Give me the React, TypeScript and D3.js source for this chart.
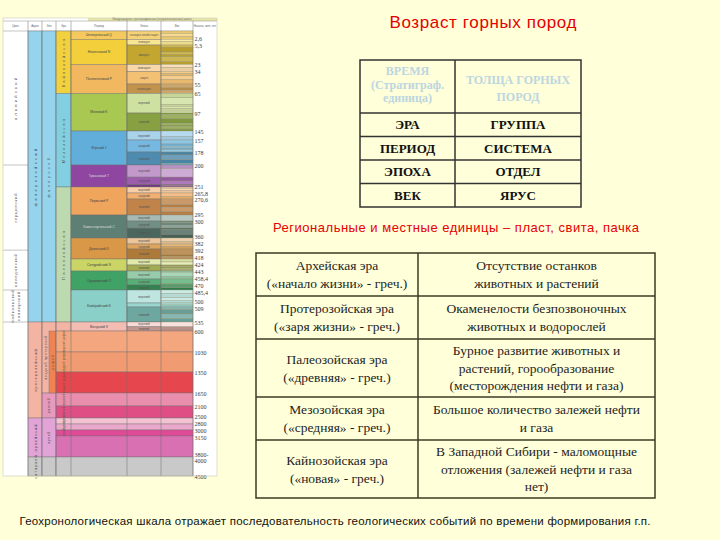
import React from "react";
import * as d3 from "d3";

// ---------- time axis of the geochronological scale ----------
const AGES = [0, 2.6, 5.3, 23, 34, 55, 65, 97, 145, 157, 178, 200, 251, 265.8, 270.6, 295, 300, 360, 382, 392, 418, 424, 443, 458.4, 470, 485.4, 500, 509, 535, 600, 1030, 1350, 1650, 2100, 2500, 2800, 3000, 3150, 3800, 4500];
const AGE_LABELS = ["", "2,6", "5,3", "23", "34", "55", "65", "97", "145", "157", "178", "200", "251", "265,8", "270,6", "295", "300", "360", "382", "392", "418", "424", "443", "458,4", "470", "485,4", "500", "509", "535", "600", "1030", "1350", "1650", "2100", "2500", "2800", "3000", "3150", "3800-4000", "4500"];
// the scale is drawn non-linearly: screen position of each labelled age
const AXIS_POS = [31, 39.5, 45, 64.5, 71.5, 84, 93.5, 113, 131, 140, 152, 165, 187, 193, 199, 215, 221, 238, 244, 249, 259, 265, 271, 279, 285, 290, 303, 307, 322, 331, 352, 372, 393, 406, 418, 424, 430, 436, 457, 476];

// tectonic cycles
const CYCLE_NAMES = [["альпийский"], ["герцинский"], ["каледонский"], ["байкальский", "салаирский"]];
const CYCLE_FROM = [0, 200, 395, 485.4];
const CYCLE_TO = [200, 395, 485.4, 535];

// acrons / eons
const ACRONS = ["фанерозойский", "протерозойский", "архейский", "катархей"];
const ACRON_FROM = [0, 535, 2500, 3800];
const ACRON_TO = [535, 2500, 3800, 4500];
const ACRON_COLORS = ["#95D4EC", "#F4B4A4", "#E2A4D6", "#C9C9C9"];

const EONS = ["фанерозой", "поздний протерозой", "ранний", "архей", ""];
const EON_FROM = [0, 535, 1650, 2500, 3800];
const EON_TO = [535, 1650, 2500, 3800, 4500];
const EON_COLORS = ["#95D4EC", "#F4B4A4", "#E899BE", "#E2A4D6", "#C9C9C9"];
const RIPHEAN = { name: "рифей", from: 600, to: 1650 };

// eras (Phanerozoic)
const ERAS = ["Кайнозойская", "Мезозойская", "Палеозойская"];
const ERA_FROM = [0, 65, 251];
const ERA_TO = [65, 251, 535];
const ERA_COLORS = ["#F2D13E", "#81CFE0", "#BCD9AF"];

// periods
const PERIODS = ["Четвертичный Q", "Неогеновый N", "Палеогеновый P", "Меловой K", "Юрский J", "Триасовый T", "Пермский P", "Каменноугольный C", "Девонский D", "Силурийский S", "Ордовикский O", "Кембрийский Є", "Вендский V"];
const PERIOD_FROM = [0, 2.6, 23, 65, 145, 200, 251, 295, 360, 418, 443, 485.4, 535];
const PERIOD_TO = [2.6, 23, 65, 145, 200, 251, 295, 360, 418, 443, 485.4, 535, 600];
const PERIOD_COLORS = ["#F6C95E", "#F3CF3B", "#F2B860", "#A8C852", "#62AEDA", "#8E46A0", "#F0A55C", "#5E7F74", "#D99848", "#CBD566", "#40A264", "#8ACFC8", "#F3BDB4"];
// epoch boundaries inside each period
const EPOCH_BREAKS = [[], [5.3], [34, 55], [97], [157, 178], [228, 245], [265.8, 270.6], [300, 325], [382, 392], [424], [458.4, 470], [500, 509], [570]];
const EPOCH_NAMES = [["голоцен-плейстоцен"], ["плиоцен", "миоцен"], ["олигоцен", "эоцен", "палеоцен"], ["верхний", "нижний"], ["верхний", "средний", "нижний"], ["верхний", "средний", "нижний"], ["верхний", "средний", "нижний"], ["верхний", "средний", "нижний"], ["верхний", "средний", "нижний"], ["верхний", "нижний"], ["верхний", "средний", "нижний"], ["верхний", "средний", "нижний"], ["верхний", "нижний"]];
// stage boundaries
const STAGE_BREAKS = [0.781, 1.806, 3.6, 7.25, 11.6, 13.8, 16.0, 20.4, 28.1, 37.8, 41.2, 47.8, 59.2, 61.6, 72.1, 83.6, 86.3, 89.8, 93.9, 100.5, 113, 125, 129.4, 132.9, 139.8, 152.1, 164, 168, 171, 174, 183, 191, 197, 208.5, 237, 247.2, 254, 259.5, 268.8, 279.3, 283.5, 290.1, 303.7, 307, 315.2, 330.9, 346.7, 372.2, 387.7, 407.6, 410.8, 421, 427.4, 430.5, 433.4, 438.5, 440.8, 445.2, 453, 467.3, 477.7, 489.5, 494, 497, 504.5, 514, 521, 529];

// Precambrian subdivisions
const PRECAMBRIAN = ["верхний рифей", "средний рифей", "нижний рифей", "верхний", "нижний", "поздний", "средний", "ранний", "", ""];
const PRE_FROM = [600, 1030, 1350, 1650, 2100, 2500, 2800, 3000, 3150, 3800];
const PRE_TO = [1030, 1350, 1650, 2100, 2500, 2800, 3000, 3150, 3800, 4500];
const PRE_COLORS = ["#F4A67F", "#F09B72", "#E6474F", "#E98EAD", "#DF4F86", "#F3C2D3", "#EAA8CB", "#DF4B98", "#D870B2", "#C9C9C9"];

const HEADERS = ["Цикл", "Акрон", "Эон", "Эра", "Период", "Эпоха", "Век", "Начало, млн. лет"];

// ---------- tables ----------
const STRAT_HEAD_TIME = ["ВРЕМЯ", "(Стратиграф.", "единица)"];
const STRAT_HEAD_ROCK = ["ТОЛЩА ГОРНЫХ", "ПОРОД"];
const STRAT_TIME = ["ЭРА", "ПЕРИОД", "ЭПОХА", "ВЕК"];
const STRAT_ROCK = ["ГРУППА", "СИСТЕМА", "ОТДЕЛ", "ЯРУС"];

const ERA_ROWS = [
  ["Архейская эра", "(«начало жизни» - греч.)"],
  ["Протерозойская эра", "(«заря жизни» - греч.)"],
  ["Палеозойская эра", "(«древняя» - греч.)"],
  ["Мезозойская эра", "(«средняя» - греч.)"],
  ["Кайнозойская эра", "(«новая» - греч.)"],
];
const ERA_FACTS = [
  ["Отсутствие останков", "животных и растений"],
  ["Окаменелости безпозвоночных", "животных и водорослей"],
  ["Бурное развитие животных и", "растений, горообразование", "(месторождения нефти и газа)"],
  ["Большое количество залежей нефти", "и газа"],
  ["В Западной Сибири - маломощные", "отложения (залежей нефти и газа", "нет)"],
];

const TITLE = "Возраст горных пород";
const SUBTITLE = "Региональные и местные единицы – пласт, свита, пачка";
const CAPTION = "Геохронологическая шкала отражает последовательность геологических событий по времени формирования г.п.";

const SANS = "'Liberation Sans', Arial, sans-serif";
const SERIF = "'Liberation Serif', 'Times New Roman', serif";

const shade = (c: string, k: number) =>
  k >= 0 ? d3.interpolateRgb(c, "#ffffff")(k) : d3.interpolateRgb(c, "#000000")(-k);

const VText = ({ x, y, text, size = 4.2, fill = "#555", spacing = 0.9 }: any) => (
  <text transform={`translate(${x},${y}) rotate(-90)`} textAnchor="middle" dominantBaseline="central"
    fontSize={size} fill={fill} letterSpacing={spacing} fontFamily={SANS}>{text}</text>
);

// spread label positions so neighbouring labels keep a minimum gap
function dodge(pos: number[], gap: number) {
  const p = pos.slice();
  for (let it = 0; it < 200; it++) {
    let moved = false;
    for (let i = 1; i < p.length; i++) {
      const d = p[i] - p[i - 1];
      if (d < gap) {
        const s = (gap - d) / 2;
        p[i - 1] -= s;
        p[i] += s;
        moved = true;
      }
    }
    if (!moved) break;
  }
  return p;
}

export default function App() {
  const y = d3.scaleLinear().domain(AGES).range(AXIS_POS);
  const X = { a0: 3, a1: 28, b1: 42, c1: 56, cm: 49, d1: 71, e1: 127, f1: 161, g1: 193, n1: 217 };
  const top = 18, headTop = 21, bodyTop = y(0), bottom = y(4500);
  const line = "#6d6d6d";

  // epochs
  const epochs: any[] = [];
  PERIODS.forEach((p, i) => {
    const b = [PERIOD_FROM[i], ...EPOCH_BREAKS[i], PERIOD_TO[i]];
    const n = b.length - 1;
    for (let j = 0; j < n; j++) {
      const k = n === 1 ? 0.15 : 0.45 - (0.65 * j) / (n - 1);
      epochs.push({ from: b[j], to: b[j + 1], color: shade(PERIOD_COLORS[i], k), name: EPOCH_NAMES[i][j] || "" });
    }
  });
  // stages
  const allB = Array.from(new Set([...epochs.map((e) => e.from), 600, ...STAGE_BREAKS])).sort((a, b) => a - b);
  const stages: any[] = [];
  for (let j = 0; j < allB.length - 1; j++) {
    const ep = epochs.find((e) => allB[j] >= e.from && allB[j] < e.to);
    stages.push({ from: allB[j], to: allB[j + 1], color: shade(ep.color, j % 2 ? 0.18 : -0.05) });
  }

  const headX = [X.a0, X.a1, X.b1, X.c1, X.d1, X.e1, X.f1, X.g1, X.n1];

  // age labels (skip the empty one at 0)
  const labelIdx = AGES.map((_, i) => i).filter((i) => AGE_LABELS[i]);
  const LABEL_SIZE = 6;
  const labelY = dodge(labelIdx.map((i) => y(AGES[i]) + 0.5), LABEL_SIZE * 1.16);

  // tables layout
  const T1 = { x0: 360, xm: 455, x1: 581, y0: 60, yh: 113, y1: 207 };
  const rowH1 = (T1.y1 - T1.yh) / STRAT_TIME.length;
  const T2 = { x0: 256, xm: 418, x1: 655, y0: 253 };
  const lh = 18;
  const rowHeights = ERA_FACTS.map((f, i) => Math.max(f.length, ERA_ROWS[i].length) === 3 ? 58 : 43);
  const rowTops = rowHeights.reduce((acc: number[], h, i) => [...acc, acc[i] + h], [T2.y0]);

  return (
    <div style={{ position: "absolute", left: 0, top: 0 }}>
      <svg width={720} height={540} viewBox="0 0 720 540" style={{ display: "block" }}>
        <rect x={0} y={0} width={720} height={540} fill="#FFFFDA" />

        {/* ================= geochronological scale ================= */}
        <g>
          <rect x={X.a0} y={top} width={X.n1 - X.a0} height={bottom - top} fill="#ffffff" />
          <rect x={88} y={top} width={X.n1 - 88} height={headTop - top} fill="#E9E7A8" />
          <text x={152} y={top + 1.7} textAnchor="middle" dominantBaseline="central" fontSize={2.6} fill="#666" fontFamily={SANS}>
            Международная стратиграфическая (геохронологическая) шкала
          </text>
          {/* header row */}
          {HEADERS.map((h, i) => (
            <text key={h} x={(headX[i] + headX[i + 1]) / 2} y={(headTop + bodyTop) / 2} textAnchor="middle"
              dominantBaseline="central" fontSize={2.8} fill="#666" fontFamily={SANS}>{h}</text>
          ))}
          <line x1={X.a0} x2={X.n1} y1={headTop} y2={headTop} stroke={line} strokeWidth={0.4} />
          <line x1={X.a0} x2={X.g1} y1={bodyTop} y2={bodyTop} stroke={line} strokeWidth={0.4} />

          {/* tectonic cycles */}
          {CYCLE_NAMES.map((c, i) => {
            const y0 = y(CYCLE_FROM[i]), y1 = y(CYCLE_TO[i]);
            return (
              <g key={i}>
                <line x1={X.a0} x2={X.a1} y1={y1} y2={y1} stroke={line} strokeWidth={0.4} />
                {c.map((t, j) => (
                  <VText key={t} x={(X.a0 + X.a1) / 2 + (j - (c.length - 1) / 2) * 6} y={(y0 + y1) / 2} text={t}
                    size={4.2} spacing={i === 0 ? 2.2 : 0.8} />
                ))}
              </g>
            );
          })}

          {/* acrons */}
          {ACRONS.map((a, i) => {
            const y0 = y(ACRON_FROM[i]), y1 = y(ACRON_TO[i]);
            return (
              <g key={a}>
                <rect x={X.a1} y={y0} width={X.b1 - X.a1} height={y1 - y0} fill={ACRON_COLORS[i]} stroke={line} strokeWidth={0.4} />
                <VText x={(X.a1 + X.b1) / 2} y={(y0 + y1) / 2} text={a} size={4} spacing={i === 0 ? 2.4 : 1} fill="#444" />
              </g>
            );
          })}
          {/* eons */}
          {EONS.map((a, i) => {
            const y0 = y(EON_FROM[i]), y1 = y(EON_TO[i]);
            return (
              <g key={i}>
                <rect x={X.b1} y={y0} width={X.c1 - X.b1} height={y1 - y0} fill={EON_COLORS[i]} stroke={line} strokeWidth={0.4} />
                {a && (
                  <VText x={i === 1 ? (X.b1 + X.cm) / 2 : (X.b1 + X.c1) / 2} y={(y0 + y1) / 2} text={a} size={3.6}
                    spacing={i === 0 ? 2.6 : 0.6} fill="#444" />
                )}
              </g>
            );
          })}
          <rect x={X.cm} y={y(RIPHEAN.from)} width={X.c1 - X.cm} height={y(RIPHEAN.to) - y(RIPHEAN.from)}
            fill="#F08352" stroke={line} strokeWidth={0.4} />
          <VText x={(X.cm + X.c1) / 2} y={(y(RIPHEAN.from) + y(RIPHEAN.to)) / 2} text={RIPHEAN.name} size={3.6} fill="#553" />

          {/* eras */}
          {ERAS.map((a, i) => {
            const y0 = y(ERA_FROM[i]), y1 = y(ERA_TO[i]);
            return (
              <g key={a}>
                <rect x={X.c1} y={y0} width={X.d1 - X.c1} height={y1 - y0} fill={ERA_COLORS[i]} stroke={line} strokeWidth={0.4} />
                <VText x={(X.c1 + X.d1) / 2} y={(y0 + y1) / 2} text={a} size={4} spacing={2} fill="#555" />
              </g>
            );
          })}
          <rect x={X.c1} y={y(535)} width={X.d1 - X.c1} height={y(600) - y(535)} fill={ACRON_COLORS[1]} stroke={line} strokeWidth={0.4} />

          {/* periods */}
          {PERIODS.map((p, i) => {
            const y0 = y(PERIOD_FROM[i]), y1 = y(PERIOD_TO[i]);
            return (
              <g key={i}>
                <rect x={X.d1} y={y0} width={X.e1 - X.d1} height={y1 - y0} fill={PERIOD_COLORS[i]} stroke={line} strokeWidth={0.4} />
                <text x={(X.d1 + X.e1) / 2} y={(y0 + y1) / 2} textAnchor="middle" dominantBaseline="central" fontSize={3.4}
                  fill={i === 5 || i === 7 ? "#ddd" : "#444"} fontFamily={SANS}>{p}</text>
              </g>
            );
          })}
          {/* epochs */}
          {epochs.map((e, i) => {
            const y0 = y(e.from), y1 = y(e.to);
            return (
              <g key={i}>
                <rect x={X.e1} y={y0} width={X.f1 - X.e1} height={y1 - y0} fill={e.color} stroke={line} strokeWidth={0.4} />
                {y1 - y0 > 4 && (
                  <text x={(X.e1 + X.f1) / 2} y={(y0 + y1) / 2} textAnchor="middle" dominantBaseline="central" fontSize={3}
                    fill="#555" fontFamily={SANS}>{e.name}</text>
                )}
              </g>
            );
          })}
          {/* stages */}
          {stages.map((s, i) => (
            <rect key={i} x={X.f1} y={y(s.from)} width={X.g1 - X.f1} height={y(s.to) - y(s.from)} fill={s.color}
              stroke="#8a8a6a" strokeWidth={0.3} />
          ))}

          {/* Precambrian bands */}
          {PRECAMBRIAN.map((p, i) => {
            const y0 = y(PRE_FROM[i]), y1 = y(PRE_TO[i]);
            return (
              <g key={i}>
                <rect x={X.c1} y={y0} width={X.g1 - X.c1} height={y1 - y0} fill={PRE_COLORS[i]} stroke={line} strokeWidth={0.4} />
                {p && <VText x={(X.c1 + X.d1) / 2} y={(y0 + y1) / 2} text={p} size={2.8} spacing={0.2} fill="#553" />}
              </g>
            );
          })}
          {[X.d1, X.e1, X.f1, X.g1].map((x) => (
            <line key={x} x1={x} x2={x} y1={headTop} y2={bottom} stroke={line} strokeWidth={0.5} />
          ))}
          {[X.a1, X.b1, X.c1].map((x) => (
            <line key={x} x1={x} x2={x} y1={headTop} y2={bottom} stroke={line} strokeWidth={0.5} />
          ))}

          {/* age labels */}
          {labelIdx.map((i, k) => {
            const lab = AGE_LABELS[i];
            const parts = lab.includes("-") ? [lab.split("-")[0] + "-", lab.split("-")[1]] : [lab];
            return (
              <text key={i} x={X.g1 + 1.5} y={labelY[k] - (parts.length - 1) * 3} fontSize={LABEL_SIZE} fill="#3a3a3a"
                fontFamily={SERIF} dominantBaseline="central">
                {parts.map((t, j) => (
                  <tspan key={j} x={X.g1 + 1.5} dy={j === 0 ? 0 : 6}>{t}</tspan>
                ))}
              </text>
            );
          })}
          <rect x={X.a0} y={top} width={X.n1 - X.a0} height={bottom - top} fill="none" stroke="#c8c8b8" strokeWidth={0.6} />
        </g>

        {/* ================= title ================= */}
        <text x={483} y={22} textAnchor="middle" dominantBaseline="central" fontSize={17} fill="#E60000"
          fontFamily={SANS} textLength={187} lengthAdjust="spacing">{TITLE}</text>

        {/* ================= stratigraphic table ================= */}
        <g fontFamily={SERIF} fontWeight="bold">
          {STRAT_HEAD_TIME.map((t, i) => (
            <text key={t} x={(T1.x0 + T1.xm) / 2} y={71 + i * 13.5} textAnchor="middle" dominantBaseline="central"
              fontSize={12} fill="#BCD6E0">{t}</text>
          ))}
          {STRAT_HEAD_ROCK.map((t, i) => (
            <text key={t} x={(T1.xm + T1.x1) / 2} y={80 + i * 17} textAnchor="middle" dominantBaseline="central"
              fontSize={12} fill="#BCD6E0">{t}</text>
          ))}
          {STRAT_TIME.map((t, i) => (
            <g key={t}>
              <text x={(T1.x0 + T1.xm) / 2} y={T1.yh + rowH1 * (i + 0.5)} textAnchor="middle" dominantBaseline="central"
                fontSize={13} fill="#111">{t}</text>
              <text x={(T1.xm + T1.x1) / 2} y={T1.yh + rowH1 * (i + 0.5)} textAnchor="middle" dominantBaseline="central"
                fontSize={13} fill="#111">{STRAT_ROCK[i]}</text>
              <line x1={T1.x0} x2={T1.x1} y1={T1.yh + rowH1 * i} y2={T1.yh + rowH1 * i} stroke="#333" strokeWidth={1.5} />
            </g>
          ))}
          <rect x={T1.x0} y={T1.y0} width={T1.x1 - T1.x0} height={T1.y1 - T1.y0} fill="none" stroke="#333" strokeWidth={1.5} />
          <line x1={T1.xm} x2={T1.xm} y1={T1.y0} y2={T1.y1} stroke="#333" strokeWidth={1.5} />
        </g>

        <text x={456} y={227} textAnchor="middle" dominantBaseline="central" fontSize={13} fill="#E60000"
          fontFamily={SANS} textLength={366} lengthAdjust="spacing">{SUBTITLE}</text>

        {/* ================= eras table ================= */}
        <g fontFamily={SERIF} fontSize={13.5} fill="#1e1e1e">
          {ERA_ROWS.map((r, i) => {
            const yc = (rowTops[i] + rowTops[i + 1]) / 2;
            const f = ERA_FACTS[i];
            return (
              <g key={i}>
                {r.map((t, j) => (
                  <text key={j} x={(T2.x0 + T2.xm) / 2} y={yc + (j - (r.length - 1) / 2) * lh} textAnchor="middle"
                    dominantBaseline="central">{t}</text>
                ))}
                {f.map((t, j) => (
                  <text key={j} x={(T2.xm + T2.x1) / 2} y={yc + (j - (f.length - 1) / 2) * (f.length === 3 ? 17.5 : lh)}
                    textAnchor="middle" dominantBaseline="central">{t}</text>
                ))}
                {i > 0 && <line x1={T2.x0} x2={T2.x1} y1={rowTops[i]} y2={rowTops[i]} stroke="#3b3b22" strokeWidth={1.5} />}
              </g>
            );
          })}
          <rect x={T2.x0} y={T2.y0} width={T2.x1 - T2.x0} height={rowTops[rowTops.length - 1] - T2.y0} fill="none"
            stroke="#3b3b22" strokeWidth={1.5} />
          <line x1={T2.xm} x2={T2.xm} y1={T2.y0} y2={rowTops[rowTops.length - 1]} stroke="#3b3b22" strokeWidth={1.5} />
        </g>

        <text x={335} y={521} textAnchor="middle" dominantBaseline="central" fontSize={11.5} fill="#111"
          fontFamily={SANS} textLength={631} lengthAdjust="spacing">{CAPTION}</text>
      </svg>
    </div>
  );
}
